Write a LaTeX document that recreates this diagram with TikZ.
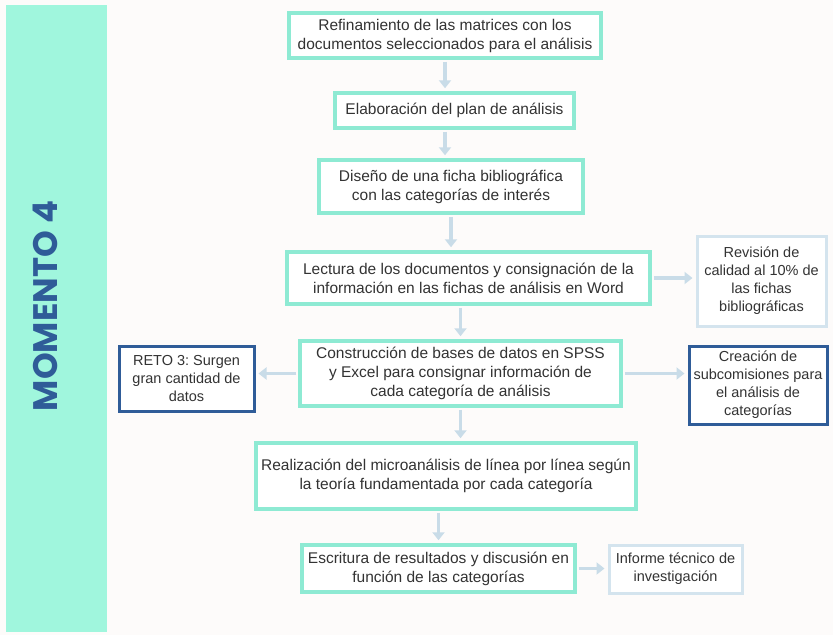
\documentclass[tikz,border=0pt]{standalone}
\usepackage{fontspec}
\setmainfont{Liberation Sans}
\newfontfamily\momfont{Poppins}
\usetikzlibrary{arrows.meta}
\frenchspacing
\definecolor{bandc}{HTML}{A0F6DD}
\definecolor{mintc}{HTML}{8EEAD3}
\definecolor{navyc}{HTML}{2F5C98}
\definecolor{palec}{HTML}{D4E4EE}
\definecolor{arrowc}{HTML}{C9DCE8}
\definecolor{textc}{HTML}{333333}
\definecolor{paperc}{HTML}{FDFBFA}
\tikzset{
  stepbox/.style={draw=mintc, line width=3.5pt, fill=white, align=center, text=textc, font=\fontsize{15.5}{19}\selectfont, inner sep=1pt},
  retobox/.style={stepbox, draw=navyc, line width=3pt, font=\fontsize{14.5}{18}\selectfont},
  notebox/.style={stepbox, draw=palec, line width=3pt, font=\fontsize{14.5}{18}\selectfont},
  flow/.style={draw=arrowc, line width=3.5pt, -{Triangle[width=12pt,length=8pt]}, shorten >=3pt, shorten <=2pt}
}
\begin{document}
\begin{tikzpicture}[x=1pt,y=-1pt]
        \useasboundingbox (0,0) rectangle (833,635);
        \fill[paperc] (0,0) rectangle (833,635);
        % franja lateral
        \fill[bandc] (6,5) rectangle (107,632);
        \node[rotate=90, text=navyc, font=\momfont\bfseries\fontsize{34}{34}\selectfont] (momento) at (45,306) {MOMENTO 4};
        % pasos principales
        \node[stepbox, minimum width=312pt, minimum height=45pt] (refina) at (445,35.5) {Refinamiento de las matrices con los\\documentos seleccionados para el análisis};
        \node[stepbox, minimum width=239pt, minimum height=35pt] (plan) at (454.5,110.5) {Elaboración del plan de análisis};
        \node[stepbox, minimum width=264pt, minimum height=53pt] (ficha) at (451,186.5) {Diseño de una ficha bibliográfica\\con las categorías de interés};
        \node[stepbox, minimum width=363pt, minimum height=52pt] (lectura) at (468.5,278) {Lectura de los documentos y consignación de la\\información en las fichas de análisis en Word};
        \node[stepbox, minimum width=321pt, minimum height=65pt] (bases) at (460.5,373.5) {Construcción de bases de datos en SPSS\\y Excel para consignar información de\\cada categoría de análisis};
        \node[stepbox, minimum width=380pt, minimum height=66pt] (micro) at (446,476) {Realización del microanálisis de línea por línea según\\la teoría fundamentada por cada categoría};
        \node[stepbox, minimum width=273pt, minimum height=47pt] (escritura) at (438.5,568.5) {Escritura de resultados y discusión en\\función de las categorías};
        % cajas laterales
        \node[retobox, minimum width=135pt, minimum height=65pt] (reto) at (186.5,378.5) {RETO 3: Surgen\\gran cantidad de\\datos};
        \node[notebox, minimum width=129pt, minimum height=90pt] (revision) at (761.5,281) {Revisión de\\calidad al 10\% de\\las fichas\\bibliográficas};
        \node[retobox, minimum width=138pt, minimum height=78pt] (subcom) at (758,385) {Creación de\\subcomisiones para\\el análisis de\\categorías};
        \node[notebox, minimum width=133pt, minimum height=48pt] (informe) at (675.5,569) {Informe técnico de\\investigación};
        % flechas
        \draw[flow] (refina.south) -- (refina.south |- plan.north);
        \draw[flow] (plan.south -| refina.south) -- (refina.south |- ficha.north);
        \draw[flow] (ficha.south) -- (ficha.south |- lectura.north);
        \draw[flow] (lectura.south -| bases.south) -- (bases.north);
        \draw[flow] (bases.south) -- (bases.south |- micro.north);
        \draw[flow] (micro.south -| escritura.south) -- (escritura.north);
        \draw[flow] (lectura.east) -- (lectura.east -| revision.west);
        \draw[flow] (bases.west) -- (bases.west -| reto.east);
        \draw[flow] (bases.east) -- (bases.east -| subcom.west);
        \draw[flow] (escritura.east) -- (escritura.east -| informe.west);
\end{tikzpicture}
\end{document}
